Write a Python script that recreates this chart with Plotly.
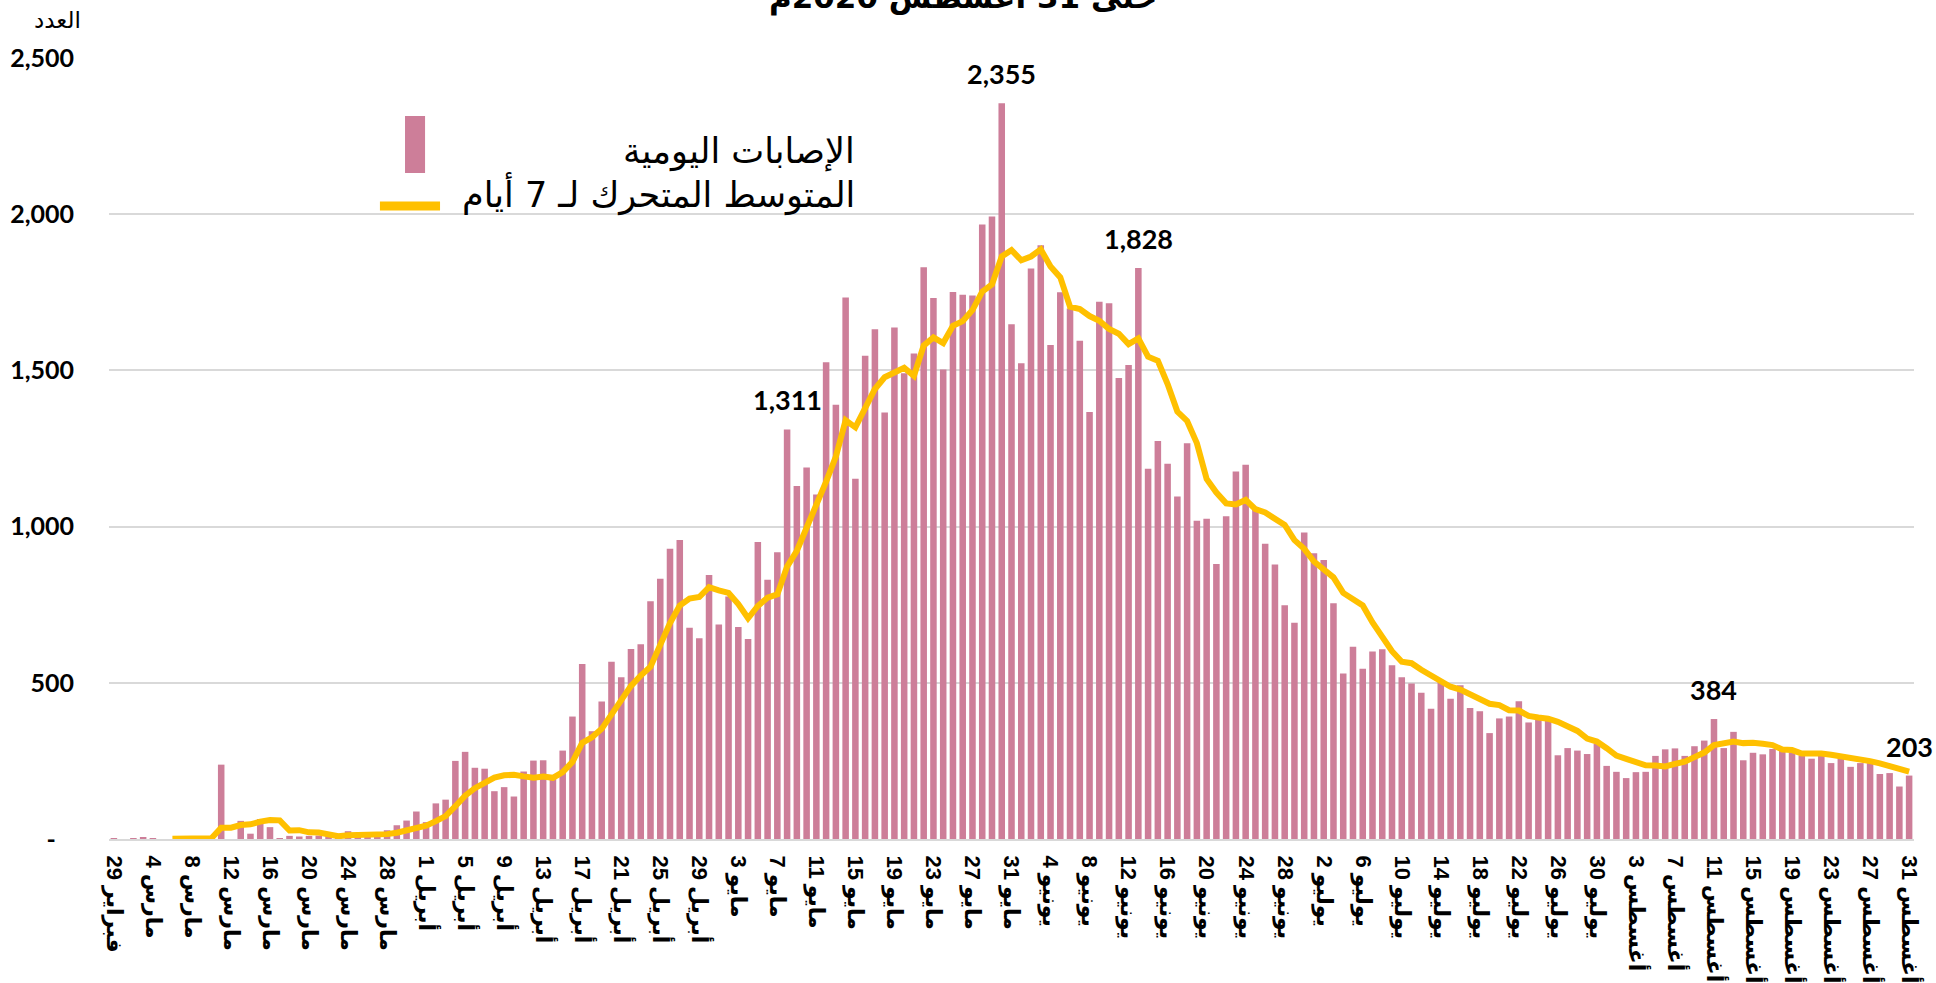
import plotly.graph_objects as go

# ---------------- data ----------------
MONTHS = ["فبراير", "مارس", "أبريل", "مايو", "يونيو", "يوليو", "أغسطس"]
FIRST_DAY = [29, 1, 1, 1, 1, 1, 1]
LAST_DAY = [29, 31, 30, 31, 30, 31, 31]
dates = [f"{d} {m}" for m, a, b in zip(MONTHS, FIRST_DAY, LAST_DAY) for d in range(a, b + 1)]

daily_cases = [
    1, 0, 2, 4, 1, 0, 0, 0, 4, 3, 9, 238, 0, 58, 17, 64, 38, 3, 10, 8, 10, 11, 13, 7, 25, 11, 12, 13, 28, 44, 59, 88,
    54, 114, 126, 250, 279, 228, 225, 153, 166, 136, 216, 251, 252, 197, 283, 392, 560, 345, 440, 567, 518, 608, 623,
    761, 833, 929, 957, 676, 643, 845,
    687, 776, 679, 640, 951, 830, 918, 1311, 1130, 1189, 1103, 1526, 1390, 1733, 1153, 1547, 1632, 1365, 1637, 1491,
    1554, 1830, 1732, 1503, 1751, 1742, 1740, 1967, 1993, 2355, 1648,
    1523, 1826, 1901, 1581, 1750, 1698, 1595, 1367, 1720, 1715, 1476, 1517, 1828, 1185, 1274, 1201, 1096, 1267, 1019,
    1025, 880, 1033, 1176, 1198, 1059, 945, 879, 748, 692, 981,
    915, 893, 755, 530, 615, 545, 600, 607, 556, 518, 498, 468, 417, 506, 449, 492, 419, 409, 339, 386, 392, 441, 373,
    383, 382, 268, 291, 283, 272, 305, 234,
    215, 195, 214, 215, 266, 287, 290, 266, 297, 315, 384, 291, 343, 252, 276, 271, 288, 284, 278, 267, 257, 270, 243,
    258, 231, 243, 243, 208, 211, 168, 203,
]

moving_avg_7 = [
    None, None, None, None, None, None,
    1.1, 1.0, 1.6, 1.7, 2.4, 36.3, 36.3, 44.6, 47.0, 55.6, 60.6, 59.7, 27.1, 28.3, 21.4, 20.6, 13.3, 8.9, 12.0, 12.1,
    12.7, 13.1, 15.6, 20.0, 27.4, 36.4,
    42.6, 57.1, 73.3, 105.0, 138.6, 162.7, 182.3, 196.4, 203.9, 205.3, 200.4, 196.4, 199.9, 195.9, 214.4, 246.7, 307.3,
    325.7, 352.7, 397.7, 443.6, 490.0, 523.0, 551.7, 621.4, 691.3, 747.0, 769.6, 774.6, 806.3,
    795.7, 787.6, 751.9, 706.6, 745.9, 772.6, 783.0, 872.1, 922.7, 995.6, 1061.7, 1143.9, 1223.9, 1340.3, 1317.7,
    1377.3, 1440.6, 1478.0, 1493.9, 1508.3, 1482.7, 1579.4, 1605.9, 1587.4, 1642.6, 1657.6, 1693.1, 1752.1, 1775.4,
    1864.4, 1885.1,
    1852.6, 1864.6, 1887.6, 1832.4, 1797.7, 1703.9, 1696.3, 1674.0, 1658.9, 1632.3, 1617.3, 1584.0, 1602.6, 1544.0,
    1530.7, 1456.6, 1368.1, 1338.3, 1267.1, 1152.4, 1108.9, 1074.4, 1070.9, 1085.4, 1055.7, 1045.1, 1024.3, 1005.4,
    956.7, 928.9,
    888.4, 864.7, 837.6, 787.7, 768.7, 747.7, 693.3, 649.3, 601.1, 567.3, 562.7, 541.7, 523.4, 510.0, 487.4, 478.3,
    464.1, 451.4, 433.0, 428.6, 412.3, 411.1, 394.1, 389.0, 385.1, 375.0, 361.4, 345.9, 321.7, 312.0, 290.7,
    266.9, 256.4, 245.4, 235.7, 234.9, 232.3, 240.3, 247.6, 262.1, 276.6, 300.7, 304.3, 312.3, 306.9, 308.3, 304.6,
    300.7, 286.4, 284.6, 273.7, 274.4, 273.6, 269.6, 265.3, 257.7, 252.7, 249.3, 242.3, 233.9, 223.1, 215.3,
]

labelled_dates = ["8 مايو", "30 مايو", "13 يونيو", "11 أغسطس", "31 أغسطس"]
tick_labels = dates[::4]
y_ticks = [0, 500, 1000, 1500, 2000, 2500]
y_tick_text = ["-\u00a0\u00a0\u00a0", "500", "1,000", "1,500", "2,000", "2,500"]

title_text = "حتى 31 أغسطس 2020م"
y_title = "العدد"
legend_bar = "الإصابات اليومية"
legend_line = "المتوسط المتحرك لـ 7 أيام"

BAR_COLOR = "#CD7E99"
LINE_COLOR = "#FFC000"
GRID = "#D9D9D9"
NUM_FONT = "Lato, 'DejaVu Sans', sans-serif"
AR_FONT = "'DejaVu Sans', sans-serif"

# ---------------- figure ----------------
fig = go.Figure()
fig.add_trace(go.Bar(x=dates, y=daily_cases, marker=dict(color=BAR_COLOR, line=dict(width=0)),
                     name=legend_bar, hoverinfo="x+y"))
fig.add_trace(go.Scatter(x=dates, y=moving_avg_7, mode="lines", line=dict(color=LINE_COLOR, width=6),
                         name=legend_line, connectgaps=False, hoverinfo="x+y"))

annotations = []
for d in labelled_dates:
    v = daily_cases[dates.index(d)]
    annotations.append(dict(x=d, y=v, xref="x", yref="y", text=f"{v:,}", showarrow=False,
                            yanchor="bottom", yshift=11,
                            font=dict(family=NUM_FONT, size=27, color="black", weight="bold")))

# title (cut off by top of page) and axis title
annotations.append(dict(x=0.4731, y=1.0512, xref="paper", yref="paper", text=title_text, showarrow=False,
                        xanchor="center", yanchor="bottom",
                        font=dict(family=AR_FONT, size=31, color="black", weight="bold")))
annotations.append(dict(x=-0.0288, y=1.0487, xref="paper", yref="paper", text=y_title, showarrow=False,
                        xanchor="center", yanchor="middle",
                        font=dict(family=AR_FONT, size=23, color="black")))
# legend texts
annotations.append(dict(x=0.4144, y=0.8809, xref="paper", yref="paper", text=legend_bar, showarrow=False,
                        xanchor="right", yanchor="middle",
                        font=dict(family=AR_FONT, size=35, color="black")))
annotations.append(dict(x=0.4144, y=0.8259, xref="paper", yref="paper", text=legend_line, showarrow=False,
                        xanchor="right", yanchor="middle",
                        font=dict(family=AR_FONT, size=35, color="black")))

shapes = [
    dict(type="rect", xref="paper", yref="paper", x0=0.1640, x1=0.1751, y0=0.8528, y1=0.9257,
         fillcolor=BAR_COLOR, line=dict(width=0)),
    dict(type="line", xref="paper", yref="paper", x0=0.1501, x1=0.1834, y0=0.8105, y1=0.8105,
         line=dict(color=LINE_COLOR, width=9)),
]

fig.update_layout(
    width=1936, height=983,
    margin=dict(l=109, r=22, t=58, b=144),
    plot_bgcolor="white", paper_bgcolor="white",
    showlegend=False, bargap=0.33,
    annotations=annotations, shapes=shapes,
    xaxis=dict(type="category", tickmode="array", tickvals=tick_labels, ticktext=tick_labels,
               range=[-0.5, len(dates) - 0.5],
               tickangle=90, ticks="", showgrid=False, showline=True, linecolor=GRID, linewidth=2,
               automargin=False,
               tickfont=dict(family="'Liberation Sans', 'DejaVu Sans', sans-serif", size=22, color="black",
                             weight="bold"),
               ticklabelstandoff=10),
    yaxis=dict(range=[0, 2500], tickmode="array", tickvals=y_ticks, ticktext=y_tick_text,
               showgrid=True, gridcolor=GRID, gridwidth=2, zeroline=False, showline=False, ticks="",
               automargin=False,
               tickfont=dict(family=NUM_FONT, size=25, color="black", weight="bold"),
               ticklabelstandoff=34),
)

fig.write_html("out.html", config={"displayModeBar": False},
               post_script="document.body.style.margin='0px';document.body.style.overflow='hidden';")
